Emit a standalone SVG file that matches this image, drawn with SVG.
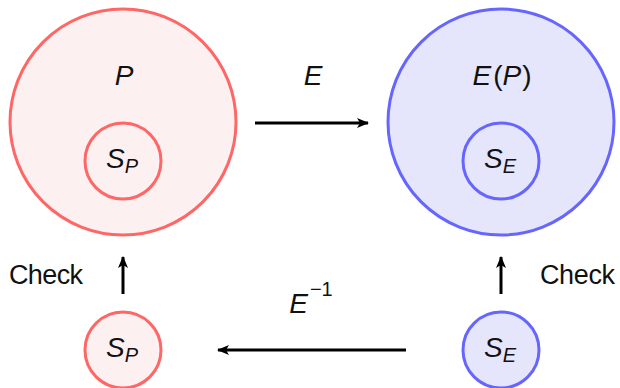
<svg xmlns="http://www.w3.org/2000/svg" width="620" height="388" viewBox="0 0 620 388">
<defs>
<style>
.red{fill:#fdf0f0;stroke:#ff6666;stroke-width:3}
.blue{fill:#e5e5fb;stroke:#6666ff;stroke-width:3}
.m{font-family:"Liberation Sans",Arial,sans-serif;font-style:italic;font-size:28px;fill:#111;text-anchor:middle}
.sub{font-size:20px}
.up{font-style:normal}
.t{font-family:"Liberation Sans",Arial,sans-serif;font-size:27px;fill:#111}
.c{stroke:#000;stroke-width:3;fill:none}
</style>
<marker id="ah" viewBox="0 0 12 10" refX="11" refY="5" markerWidth="12" markerHeight="10" markerUnits="userSpaceOnUse" orient="auto">
<path d="M0,0 L12,5 L0,10 L3,5 Z" fill="#000"/>
</marker>
</defs>
<g id="P">
<circle class="red" cx="123" cy="122" r="113"/>
<text class="m" x="124" y="85">P</text>
</g>
<g id="SP_inner">
<circle class="red" cx="123" cy="161" r="38"/>
<text class="m" x="122" y="168">S<tspan class="sub" dy="5">P</tspan></text>
</g>
<g id="EP">
<circle class="blue" cx="501" cy="122" r="113"/>
<text class="m" x="502" y="85">E<tspan class="up" dx="2">(</tspan>P<tspan class="up" dx="1">)</tspan></text>
</g>
<g id="SE_inner">
<circle class="blue" cx="501" cy="161" r="38"/>
<text class="m" x="500" y="168">S<tspan class="sub" dy="5">E</tspan></text>
</g>
<g id="SP_bottom">
<circle class="red" cx="123" cy="350" r="38"/>
<text class="m" x="122" y="357">S<tspan class="sub" dy="5">P</tspan></text>
</g>
<g id="SE_bottom">
<circle class="blue" cx="501" cy="350" r="38"/>
<text class="m" x="500" y="357">S<tspan class="sub" dy="5">E</tspan></text>
</g>
<g id="connectors">
<line class="c" x1="255" y1="123" x2="368" y2="123" marker-end="url(#ah)"/>
<text class="m" x="313" y="85">E</text>
<line class="c" x1="406" y1="350" x2="218" y2="350" marker-end="url(#ah)"/>
<text class="m" x="311" y="313">E<tspan class="sub up" dx="2" dy="-17">−1</tspan></text>
<line class="c" x1="123" y1="294" x2="123" y2="257" marker-end="url(#ah)"/>
<text class="t" x="9" y="284" textLength="74">Check</text>
<line class="c" x1="501" y1="294" x2="501" y2="257" marker-end="url(#ah)"/>
<text class="t" x="540" y="284" textLength="75">Check</text>
</g>
</svg>
